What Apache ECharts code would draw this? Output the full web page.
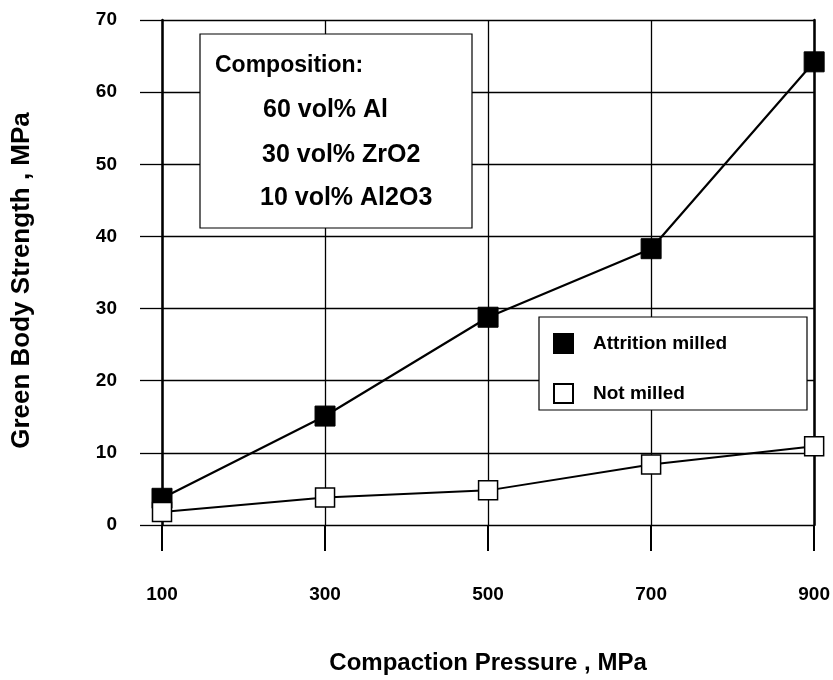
<!DOCTYPE html>
<html>
<head>
<meta charset="utf-8">
<script src="https://cdn.jsdelivr.net/npm/echarts@6/dist/echarts.min.js"></script>
<style>
  html, body { margin: 0; padding: 0; background: #fff; }
  #chart { width: 833px; height: 680px; }
</style>
</head>
<body>
<div id="chart"></div>
<script>
// compaction pressure, MPa
const pressure = [100, 300, 500, 700, 900];
// green body strength, MPa
const attritionMilled = [3.7, 15.1, 28.8, 38.3, 64.2];
const notMilled = [1.8, 3.8, 4.8, 8.4, 10.9];
const composition = ['Composition:', '60 vol% Al', '30 vol% ZrO2', '10 vol% Al2O3'];

const pairs = (ys) => pressure.map((x, i) => [x, ys[i]]);
const font = '"Liberation Sans", Arial, sans-serif';

// placement of the composition note lines
const noteX = [215, 263, 262, 260];
const noteY = [66, 110, 155, 198];
const noteSize = [23, 25, 25, 25];

const chart = echarts.init(document.getElementById('chart'));
chart.setOption({
  animation: false,
  backgroundColor: '#fff',
  textStyle: { fontFamily: font, color: '#000' },
  grid: { left: 162, right: 17, top: 20, bottom: 155 },
  legend: {
    orient: 'vertical',
    left: 553,
    top: 333,
    padding: 0,
    itemWidth: 19,
    itemHeight: 19,
    itemGap: 29,
    icon: 'rect',
    textStyle: { fontFamily: font, fontSize: 19, lineHeight: 19, fontWeight: 'bold', color: '#000', padding: [0, 0, 0, 15] },
    data: ['Attrition milled', 'Not milled'],
    z: 12
  },
  xAxis: {
    type: 'value',
    min: 100,
    max: 900,
    interval: 200,
    name: 'Compaction Pressure , MPa',
    nameLocation: 'middle',
    nameGap: 126,
    nameTextStyle: { fontSize: 24, fontWeight: 'bold', color: '#000' },
    axisLine: { show: false },
    axisTick: { show: true, inside: false, length: 26, lineStyle: { color: '#000', width: 2 } },
    axisLabel: { margin: 60, fontSize: 19, fontWeight: 'bold', color: '#000' },
    splitLine: { show: true, lineStyle: { color: '#000', width: 1.3 } }
  },
  yAxis: [{
    type: 'value',
    min: 0,
    max: 70,
    interval: 10,
    name: 'Green Body Strength , MPa',
    nameLocation: 'middle',
    nameGap: 127,
    nameTextStyle: { fontSize: 26, fontWeight: 'bold', color: '#000', padding: [0, 16, 0, 0] },
    axisLine: { show: true, lineStyle: { color: '#000', width: 2.5 } },
    axisTick: { show: true, inside: false, length: 22, lineStyle: { color: '#000', width: 1.3 } },
    axisLabel: { margin: 45, fontSize: 19, fontWeight: 'bold', color: '#000' },
    splitLine: { show: true, lineStyle: { color: '#000', width: 1.3 } }
  }, {
    type: 'value',
    position: 'right',
    min: 0,
    max: 70,
    interval: 10,
    axisLine: { show: true, lineStyle: { color: '#000', width: 2.5 } },
    axisTick: { show: false },
    axisLabel: { show: false },
    splitLine: { show: false }
  }],
  graphic: [
    {
      type: 'rect',
      shape: { x: 200, y: 34, width: 272, height: 194 },
      style: { fill: '#fff', stroke: '#000', lineWidth: 1.2 },
      z: 10
    },
    ...composition.map((t, i) => ({
      type: 'text',
      x: noteX[i],
      y: noteY[i],
      style: { text: t, font: 'bold ' + noteSize[i] + 'px ' + font, fill: '#000', verticalAlign: 'middle' },
      z: 11
    })),
    {
      type: 'rect',
      shape: { x: 539, y: 317, width: 268, height: 93 },
      style: { fill: '#fff', stroke: '#000', lineWidth: 1.2 },
      z: 10
    }
  ],
  series: [
    {
      name: 'Attrition milled',
      type: 'line',
      data: pairs(attritionMilled),
      symbol: 'rect',
      symbolSize: 20,
      lineStyle: { color: '#000', width: 2.2 },
      itemStyle: { color: '#000', borderColor: '#000', borderWidth: 1 },
      z: 3
    },
    {
      name: 'Not milled',
      type: 'line',
      data: pairs(notMilled),
      symbol: 'rect',
      symbolSize: 19,
      lineStyle: { color: '#000', width: 2 },
      itemStyle: { color: '#fff', borderColor: '#000', borderWidth: 1.5 },
      z: 4
    }
  ]
});
</script>
</body>
</html>
